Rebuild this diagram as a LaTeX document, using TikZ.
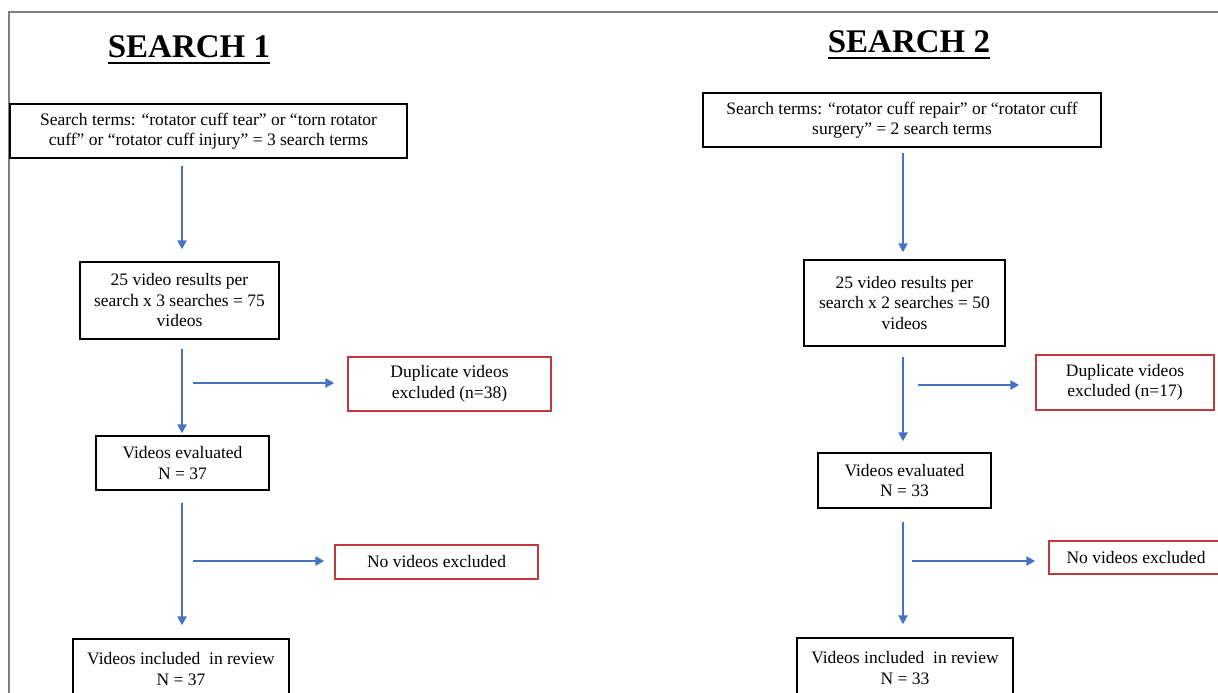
\documentclass[tikz,border=0pt]{standalone}
\usepackage{fontspec}
\setmainfont{Liberation Serif}
\usepackage{tikz}
\usetikzlibrary{arrows.meta}
\definecolor{frame}{HTML}{7F7F7F}
\definecolor{flow}{HTML}{4472C4}
\definecolor{excl}{HTML}{C0393F}
\tikzset{
  box/.style={draw=black, line width=1.4pt, align=center, inner sep=0pt, font=\fontsize{17.5}{20.5}\selectfont},
  xbox/.style={box, draw=excl},
  head/.style={font=\fontsize{33}{36}\selectfont\bfseries, inner sep=0pt, anchor=base},
  uline/.style={draw=black, line width=2.6pt},
  arr/.style={draw=flow, line width=2.6pt, -{Triangle[length=9pt,width=9pt]}},
  rim/.style={draw=frame, line width=2.2pt},
}

\begin{document}
\begin{tikzpicture}[x=1pt, y=-1pt]
  \useasboundingbox (0,0) rectangle (1218,693);
  \clip (0,0) rectangle (1218,693);
  \draw[rim] (9,720) -- (9,12) -- (1240,12);

  \coordinate (spine1) at (182,0);
  \coordinate (spine2) at (903,0);

  \node[head] (title1) at (189,58) {SEARCH 1};
  \draw[uline] ([yshift=-5pt]title1.base west) -- ([yshift=-5pt]title1.base east);
  \node[head] (title2) at (909,53) {SEARCH 2};
  \draw[uline] ([yshift=-5pt]title2.base west) -- ([yshift=-5pt]title2.base east);

  \node[box, minimum width=397pt, minimum height=54pt] (terms1) at (208.5,131)
    {Search terms: “rotator cuff tear” or “torn rotator\\cuff” or “rotator cuff injury” = 3 search terms};
  \node[box, minimum width=199pt, minimum height=77pt] (res1) at (179.5,300.5)
    {25 video results per\\search x 3 searches = 75\\videos};
  \node[xbox, minimum width=203pt, minimum height=54pt] (dup1) at (449.5,384)
    {Duplicate videos\\excluded (n=38)};
  \node[box, minimum width=173pt, minimum height=54pt] (eval1) at (182.5,463)
    {Videos evaluated\\N = 37};
  \node[xbox, minimum width=203pt, minimum height=34pt] (none1) at (436.5,562)
    {No videos excluded};
  \node[box, minimum width=216pt, minimum height=60pt] (incl1) at (181,669)
    {Videos included\ \ in review\\N = 37};

  \node[box, minimum width=398pt, minimum height=54pt] (terms2) at (902,120)
    {Search terms: “rotator cuff repair” or “rotator cuff\\surgery” = 2 search terms};
  \node[box, minimum width=201pt, minimum height=86pt] (res2) at (904.5,303)
    {25 video results per\\search x 2 searches = 50\\videos};
  \node[xbox, minimum width=178pt, minimum height=55pt] (dup2) at (1125,382.5)
    {Duplicate videos\\excluded (n=17)};
  \node[box, minimum width=173pt, minimum height=55pt] (eval2) at (904.5,480.5)
    {Videos evaluated\\N = 33};
  \node[xbox, minimum width=174pt, minimum height=33pt] (none2) at (1136,557.5)
    {No videos excluded};
  \node[box, minimum width=216pt, minimum height=60pt] (incl2) at (905,668)
    {Videos included\ \ in review\\N = 33};

  \draw[arr, shorten <=7pt, shorten >=12pt] (terms1.south -| spine1) -- (res1.north -| spine1);
  \draw[arr, shorten <=9pt, shorten >=2pt] (res1.south -| spine1) -- (eval1.north -| spine1);
  \draw[arr, shorten <=12pt, shorten >=13pt] (eval1.south -| spine1) -- (incl1.north -| spine1);
  \coordinate (dup1s) at (193,383);
  \draw[arr, shorten >=13pt] (dup1s) -- (dup1s -| dup1.west);
  \coordinate (none1s) at (193,561);
  \draw[arr, shorten >=10pt] (none1s) -- (none1s -| none1.west);

  \draw[arr, shorten <=5pt, shorten >=7pt] (terms2.south -| spine2) -- (res2.north -| spine2);
  \draw[arr, shorten <=10pt, shorten >=11pt] (res2.south -| spine2) -- (eval2.north -| spine2);
  \draw[arr, shorten <=13pt, shorten >=13pt] (eval2.south -| spine2) -- (incl2.north -| spine2);
  \coordinate (dup2s) at (918,385);
  \draw[arr, shorten >=16pt] (dup2s) -- (dup2s -| dup2.west);
  \coordinate (none2s) at (912,561);
  \draw[arr, shorten >=13pt] (none2s) -- (none2s -| none2.west);
\end{tikzpicture}
\end{document}
